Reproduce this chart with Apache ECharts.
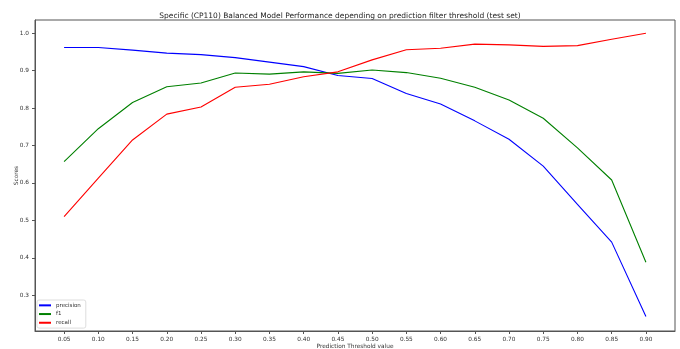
<!DOCTYPE html>
<html><head><meta charset="utf-8">
<script src="https://cdn.jsdelivr.net/npm/echarts@6/dist/echarts.min.js"></script>
<style>html,body{margin:0;padding:0;background:#fff}#c{width:680px;height:349px}</style>
</head><body><div id="c"></div>
<script>
const thresholds = [0.05,0.10,0.15,0.20,0.25,0.30,0.35,0.40,0.45,0.50,0.55,0.60,0.65,0.70,0.75,0.80,0.85,0.90];
const xTickLabels = ['0.05','0.10','0.15','0.20','0.25','0.30','0.35','0.40','0.45','0.50','0.55','0.60','0.65','0.70','0.75','0.80','0.85','0.90'];
const yTickLabels = ['0.3','0.4','0.5','0.6','0.7','0.8','0.9','1.0'];
const precision = [0.962,0.962,0.955,0.947,0.943,0.935,0.923,0.911,0.887,0.879,0.839,0.811,0.766,0.717,0.645,0.543,0.442,0.243];
const f1 = [0.657,0.745,0.815,0.857,0.867,0.894,0.891,0.897,0.893,0.902,0.895,0.880,0.856,0.822,0.773,0.694,0.608,0.388];
const recall = [0.510,0.613,0.715,0.784,0.803,0.856,0.864,0.884,0.897,0.929,0.956,0.960,0.971,0.969,0.965,0.967,0.984,1.000];

const chart = echarts.init(document.getElementById('c'), null, {renderer:'canvas'});
const font = 'DejaVu Sans';
const mk = (name, vals, color) => ({
  name, type:'line', data: thresholds.map((t,i)=>[t, vals[i]]),
  symbol:'none', lineStyle:{color, width:1.1}, itemStyle:{color}, animation:false
});
chart.setOption({
  animation:false,
  textStyle:{fontFamily:font},
  title:{text:'Specific (CP110) Balanced Model Performance depending on prediction filter threshold (test set)',
    left:'center', top:7, textStyle:{fontFamily:font, fontSize:7.5, fontWeight:'normal', color:'#222'}},
  grid:{left:35, right:5, top:20, bottom:18, show:true, borderColor:'#555', borderWidth:1,
    containLabel:false, outerBoundsMode:'none'},
  legend:{orient:'vertical', left:37, top:300, itemWidth:12, itemHeight:2, itemGap:0,
    icon:'rect', padding:[1,5,1,2], borderColor:'#ddd', borderWidth:1, borderRadius:2,
    textStyle:{fontFamily:font, fontSize:5.5, lineHeight:8.7, color:'#333'},
    data:['precision','f1','recall']},
  xAxis:{type:'value', min:0.0075, max:0.9425, name:'Prediction Threshold value', nameLocation:'middle', nameGap:12,
    nameMoveOverlap:false,
    nameTextStyle:{fontFamily:font, fontSize:5.8, color:'#333'},
    splitLine:{show:false},
    axisLine:{show:true, lineStyle:{color:'#555'}},
    axisTick:{show:true, length:3, customValues:xTickLabels.map(Number), lineStyle:{color:'#555'}},
    axisLabel:{customValues:xTickLabels.map(Number), fontSize:5.8, color:'#333', margin:5,
      formatter:v=>v.toFixed(2)}},
  yAxis:{type:'value', min:0.2045, max:1.0355, name:'Scores', nameLocation:'middle', nameGap:16,
    nameMoveOverlap:false,
    nameTextStyle:{fontFamily:font, fontSize:5.8, color:'#333'},
    splitLine:{show:false},
    axisLine:{show:true, lineStyle:{color:'#555'}},
    axisTick:{show:true, length:3, customValues:yTickLabels.map(Number), lineStyle:{color:'#555'}},
    axisLabel:{customValues:yTickLabels.map(Number), fontSize:5.8, color:'#333', margin:6,
      formatter:v=>v.toFixed(1)}},
  series:[mk('precision',precision,'#0000ff'), mk('f1',f1,'#008000'), mk('recall',recall,'#ff0000')]
});
</script></body></html>
